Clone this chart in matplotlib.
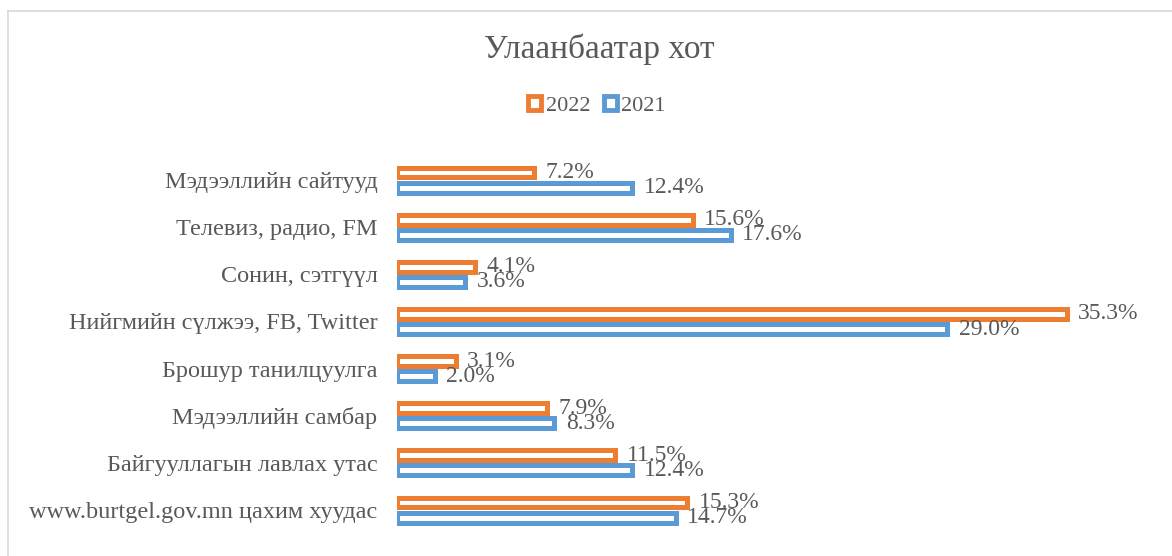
import matplotlib.pyplot as plt
from matplotlib.patches import Patch
from matplotlib.lines import Line2D
import numpy as np

categories = ["Мэдээллийн сайтууд", "Телевиз, радио, FM", "Сонин, сэтгүүл",
              "Нийгмийн сүлжээ, FB, Twitter", "Брошур танилцуулга",
              "Мэдээллийн самбар", "Байгууллагын лавлах утас",
              "www.burtgel.gov.mn цахим хуудас"]
vals_2022 = [7.2, 15.6, 4.1, 35.3, 3.1, 7.9, 11.5, 15.3]
vals_2021 = [12.4, 17.6, 3.6, 29.0, 2.0, 8.3, 12.4, 14.7]

orange = "#ED7D31"
blue = "#5B9BD5"
grey = "#595959"

plt.rcParams['font.family'] = ['Liberation Serif', 'DejaVu Serif']

fig = plt.figure(figsize=(11.72, 5.56), dpi=100)
ax = fig.add_axes([397 / 1172, 1 - 533.6 / 556, (1156 - 397) / 1172, (533.6 - 156.5) / 556])

y = np.arange(len(categories))[::-1]
h = 0.21
off = 0.16
ax.barh(y + off, vals_2022, height=h, color="white", edgecolor=orange, linewidth=3.6)
ax.barh(y - off, vals_2021, height=h, color="white", edgecolor=blue, linewidth=3.6)

for yi, v in zip(y, vals_2022):
    ax.text(v + 0.6, yi + off, f"{v:.1f}%", va="center", ha="left", fontsize=17, color=grey)
for yi, v in zip(y, vals_2021):
    ax.text(v + 0.6, yi - off, f"{v:.1f}%", va="center", ha="left", fontsize=17, color=grey)

ax.set_xlim(0, 40)
ax.set_ylim(-0.5, len(categories) - 0.5)
ax.set_yticks(y)
ax.set_yticklabels(categories, fontsize=17.5, color=grey)
ax.tick_params(axis="y", length=0, pad=14)
ax.set_xticks([])
for s in ax.spines.values():
    s.set_visible(False)

fig.text(599 / 1172, 1 - 49 / 556, "Улаанбаатар хот", ha="center", va="center",
         fontsize=24, color=grey)

handles = [Patch(facecolor="white", edgecolor=orange, linewidth=3.5, label="2022"),
           Patch(facecolor="white", edgecolor=blue, linewidth=3.5, label="2021")]
leg = fig.legend(handles=handles, loc="center", bbox_to_anchor=(597 / 1172, 1 - 106 / 556),
                 ncol=2, frameon=False, fontsize=16, handlelength=0.6, handleheight=0.6,
                 handletextpad=0.2, columnspacing=0.6)
for t in leg.get_texts():
    t.set_color(grey)

# chart border
fig.add_artist(Line2D([8 / 1172, 8 / 1172], [0, 1 - 11 / 556], color="#D9D9D9", lw=1.2,
                      transform=fig.transFigure))
fig.add_artist(Line2D([8 / 1172, 1], [1 - 11 / 556, 1 - 11 / 556], color="#D9D9D9", lw=1.2,
                      transform=fig.transFigure))

plt.savefig("out.png", dpi=100)
